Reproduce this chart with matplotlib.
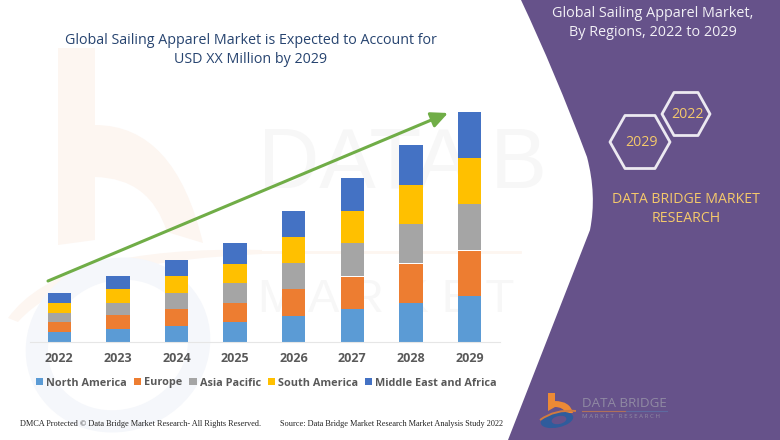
import numpy as np
import matplotlib
matplotlib.use("Agg")
import matplotlib.pyplot as plt
from matplotlib.patches import Polygon, PathPatch, Ellipse
from matplotlib.path import Path

years = ["2022", "2023", "2024", "2025", "2026", "2027", "2028", "2029"]
north_america = [10, 13, 16.5, 20, 26.5, 33, 39.5, 46]
europe = [10, 14, 16.5, 19.5, 26.5, 32.5, 39, 45.5]
asia_pacific = [9.5, 12.5, 16, 19.5, 26, 33, 39.5, 46]
south_america = [10, 13.5, 16.5, 19, 26, 32, 39, 46]
middle_east_africa = [10, 13, 16, 21, 26, 33, 40, 46]
series_names = ["North America", "Europe", "Asia Pacific", "South America", "Middle East and Africa"]
series_values = [north_america, europe, asia_pacific, south_america, middle_east_africa]
series_colors = ["#5B9BD5", "#ED7D31", "#A5A5A5", "#FFC000", "#4472C4"]

W, H = 780, 440
M, L, Q, Z = Path.MOVETO, Path.LINETO, Path.CURVE3, Path.CLOSEPOLY
fig = plt.figure(figsize=(W/100, H/100), dpi=100, facecolor="white")
bg = fig.add_axes([0, 0, 1, 1], zorder=0)
bg.set_xlim(0, W); bg.set_ylim(H, 0); bg.axis("off")

# faint watermark: big logo
b_verts = [(58,48),(95,48),(95,125),(175,125),(203,243),(167,232),(150,178),(95,177),(95,240),(58,245),(58,48)]
b_codes = [M, L, L, Q, Q, L, Q, Q, L, L, Z]
bg.add_patch(PathPatch(Path(b_verts, b_codes), fc="#FDF6F1", ec="none", zorder=1))
swoosh_verts = [(8,318),(60,245),(262,250),(262,254),(70,262),(18,322),(8,318)]
swoosh_codes = [M, Q, Q, L, Q, Q, Z]
bg.add_patch(PathPatch(Path(swoosh_verts, swoosh_codes), fc="#FDF6F1", ec="none", zorder=1))
bg.add_patch(Ellipse((118,345), 165, 150, angle=-25, fc="none", ec="#F5F7FB", lw=16, zorder=1))

# faint watermark: big words
wm = dict(color="#F7F7F7", ha="left", va="center", family="Liberation Sans", zorder=1)
bg.text(258, 166, "DATA B", fontsize=61, **wm)
bg.plot([260, 520], [252, 252], color="#FDF6F0", lw=2, zorder=1)
bg.text(258, 300, "M A R K E T", fontsize=34, **wm)

# purple panel with curved edge
verts = [(521,0),(W,0),(W,H),(508,H),(590,230),(597,195),(587,157),(555,72),(521,0)]
codes = [M, L, L, L, L, Q, Q, Q, Q]
bg.add_patch(PathPatch(Path(verts, codes), fc="#66528A", ec="none", zorder=2))

# chart
ax = fig.add_axes([30/W, 1-342/H, 470/W, 242/H], zorder=3)
ax.patch.set_alpha(0)
x = np.arange(len(years))
ax.set_xlim((30-59.3)/58.6, (500-59.3)/58.6)
ax.set_ylim(0, 242)
bottom = np.zeros(len(years))
for name, vals, col in zip(series_names, series_values, series_colors):
    ax.bar(x, vals, width=0.4, bottom=bottom, color=col, label=name, linewidth=0, antialiased=False)
    bottom += np.array(vals)
ax.set_xticks(x, years)
ax.tick_params(axis="x", length=0, pad=7.5)
for t in ax.get_xticklabels():
    t.set(fontsize=9, fontweight="bold", color="#595959", family="Open Sans")
ax.set_yticks([])
for s in ("top", "left", "right"):
    ax.spines[s].set_visible(False)
ax.spines["bottom"].set_color("#E6E6E6")
ax.spines["bottom"].set_linewidth(0.8)
leg = ax.legend(loc="center", bbox_to_anchor=(236.5/470, -41/242), ncol=5, frameon=False,
                handlelength=0.65, handleheight=0.65, handletextpad=0.28, columnspacing=0.65,
                borderpad=0, prop={"family": "Open Sans", "weight": "bold", "size": 7.85})
for t in leg.get_texts():
    t.set_color("#595959")

top = fig.add_axes([0, 0, 1, 1], zorder=4)
top.set_xlim(0, W); top.set_ylim(H, 0); top.axis("off")
top.annotate("", xy=(448, 113), xytext=(48, 281),
             arrowprops=dict(arrowstyle="-|>,head_length=1.0,head_width=0.47", color="#70AD47", lw=2.2,
                             shrinkA=0, shrinkB=0, mutation_scale=10))

title_color = "#274470"
top.text(251, 50, "Global Sailing Apparel Market is Expected to Account for\nUSD XX Million by 2029",
         fontsize=10.25, color=title_color, ha="center", va="center", family="Open Sans", linespacing=1.45)
top.text(653, 23, "Global Sailing Apparel Market,\nBy Regions, 2022 to 2029", fontsize=10.4, color="#F2F0F6",
         ha="center", va="center", family="Open Sans", linespacing=1.4)
top.text(686, 209, "DATA BRIDGE MARKET\nRESEARCH", fontsize=10.2, color="#F5C96B",
         ha="center", va="center", family="Open Sans", linespacing=1.45)

def hexagon(cx, cy, w, h):
    c = w*0.25
    return [(cx-w/2,cy),(cx-w/2+c,cy-h/2),(cx+w/2-c,cy-h/2),(cx+w/2,cy),(cx+w/2-c,cy+h/2),(cx-w/2+c,cy+h/2)]
top.add_patch(Polygon(hexagon(640,142,60,53), closed=True, fc="none", ec="#ECE9F1", lw=2, joinstyle="round"))
top.add_patch(Polygon(hexagon(686,114,48,43), closed=True, fc="none", ec="#ECE9F1", lw=2, joinstyle="round"))
top.text(641, 142, "2029", fontsize=10.2, color="#F5C96B", ha="center", va="center", family="Open Sans")
top.text(687, 114, "2022", fontsize=10.2, color="#F5C96B", ha="center", va="center", family="Open Sans")

fkw = dict(fontsize=5.97, color="#222222", va="center", family="Liberation Serif")
top.text(20.5, 424, "DMCA Protected © Data Bridge Market Research- All Rights Reserved.", ha="left", **fkw)
top.text(280, 424.5, "Source: Data Bridge Market Research Market Analysis Study 2022", ha="left", **fkw)

# logo
logo_v = [(548,393),(555,393),(555,401),(570,401),(573,413),(566,413),(563,407),(555,407),(548,411),(548,393)]
logo_c = [M, L, L, Q, Q, L, Q, Q, L, Z]
top.add_patch(PathPatch(Path(logo_v, logo_c), fc="#ED8A35", ec="none"))
top.add_patch(Ellipse((557,420), 33, 15, angle=-12, fc="#2F5C9C", ec="none"))
top.add_patch(Ellipse((559,420), 15, 8, angle=-12, fc="#66528A", ec="none"))
top.add_patch(PathPatch(Path([(540,420),(555,409),(576,411)], [M, Q, Q]), fc="none", ec="#D07A40", lw=1.4))
top.text(582, 403.5, "DATA BRIDGE", fontsize=9.6, color="#908AA3", ha="left", va="center", family="Open Sans")
top.plot([582,626],[411,411], color="#B0705A", lw=0.8)
top.plot([626,667],[411,411], color="#5F6AA0", lw=0.8)
top.text(582, 417, "M A R K E T   R E S E A R C H", fontsize=4.4, color="#908AA3", ha="left", va="center", family="Open Sans")

fig.savefig("out.png", dpi=100, facecolor="white")
